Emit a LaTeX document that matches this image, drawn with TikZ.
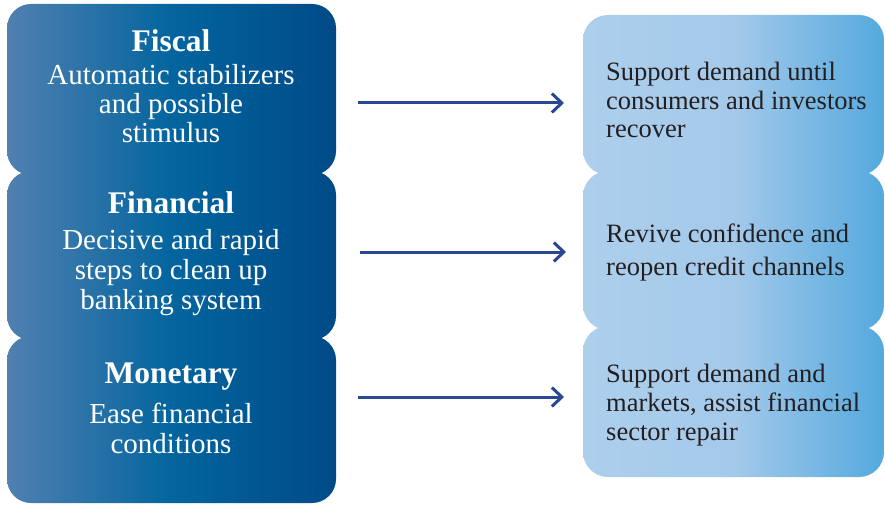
\documentclass[tikz,border=0pt]{standalone}
\usepackage{fontspec}
\setmainfont{Liberation Serif}
\usetikzlibrary{arrows.meta}
\definecolor{lboxL}{RGB}{80,128,176}
\definecolor{lboxM}{RGB}{3,101,158}
\definecolor{lboxR}{RGB}{0,74,135}
\definecolor{rboxL}{RGB}{173,207,236}
\definecolor{rboxM}{RGB}{164,201,234}
\definecolor{rboxR}{RGB}{84,169,222}
\definecolor{arrowc}{RGB}{42,72,145}
\definecolor{rtextc}{RGB}{35,31,32}
\begin{document}
\begin{tikzpicture}[x=1pt,y=-1pt,
 lbox/.style={rectangle, rounded corners=24pt, inner sep=0pt, minimum width=329pt, draw=none, left color=lboxL, right color=lboxR, middle color=lboxM},
 rbox/.style={rectangle, rounded corners=25pt, inner sep=0pt, minimum width=301pt, draw=none, left color=rboxL, right color=rboxR, middle color=rboxM},
 ltitle/.style={anchor=base, inner sep=0pt, text=white, font=\bfseries\fontsize{31.5}{33}\selectfont},
 ltext/.style={anchor=base, inner sep=0pt, text=white, font=\fontsize{29}{30}\selectfont},
 rtext/.style={anchor=base west, inner sep=0pt, text=rtextc, font=\fontsize{26.5}{28}\selectfont},
 flow/.style={draw=arrowc, line width=3pt, -{Straight Barb[length=10pt,width=19pt]}}
]
\useasboundingbox (0,0) rectangle (885,505);
% left boxes
\node[lbox, minimum height=171pt] (L1) at (171.5,89.5) {};
\node[lbox, minimum height=169pt] (L2) at (171.5,255.5) {};
\node[lbox, minimum height=167pt] (L3) at (171.5,419.5) {};
% right boxes
\node[rbox, minimum height=160pt] (R1) at (733.5,95) {};
\node[rbox, minimum height=159pt] (R2) at (733.5,250.5) {};
\node[rbox, minimum height=151pt] (R3) at (733.5,401.5) {};
% left texts
\node[ltitle] (L1t) at (171,52) {Fiscal};
\node[ltext] (L1a) at (171,85) {Automatic stabilizers};
\node[ltext] (L1b) at (171,114) {and possible};
\node[ltext] (L1c) at (171,143) {stimulus};
\node[ltitle] (L2t) at (171,213) {Financial};
\node[ltext] (L2a) at (171,249) {Decisive and rapid};
\node[ltext] (L2b) at (171,279) {steps to clean up};
\node[ltext] (L2c) at (171,309) {banking system};
\node[ltitle] (L3t) at (171,383) {Monetary};
\node[ltext] (L3a) at (171,423) {Ease financial};
\node[ltext] (L3b) at (171,453) {conditions};
% right texts
\node[rtext] (R1a) at (606,81) {Support demand until};
\node[rtext] (R1b) at (606,110) {consumers and investors};
\node[rtext] (R1c) at (606,138) {recover};
\node[rtext] (R2a) at (606,242) {Revive confidence and};
\node[rtext] (R2b) at (606,275) {reopen credit channels};
\node[rtext] (R3a) at (606,382) {Support demand and};
\node[rtext] (R3b) at (606,411) {markets, assist financial};
\node[rtext] (R3c) at (606,440) {sector repair};
% arrows
\coordinate (a1s) at (358,103);
\coordinate (a1e) at (564,103);
\coordinate (a2s) at (360,252);
\coordinate (a2e) at (566,252);
\coordinate (a3s) at (358,397);
\coordinate (a3e) at (564,397);
\draw[flow] (a1s) -- (a1e);
\draw[flow] (a2s) -- (a2e);
\draw[flow] (a3s) -- (a3e);
\end{tikzpicture}
\end{document}
